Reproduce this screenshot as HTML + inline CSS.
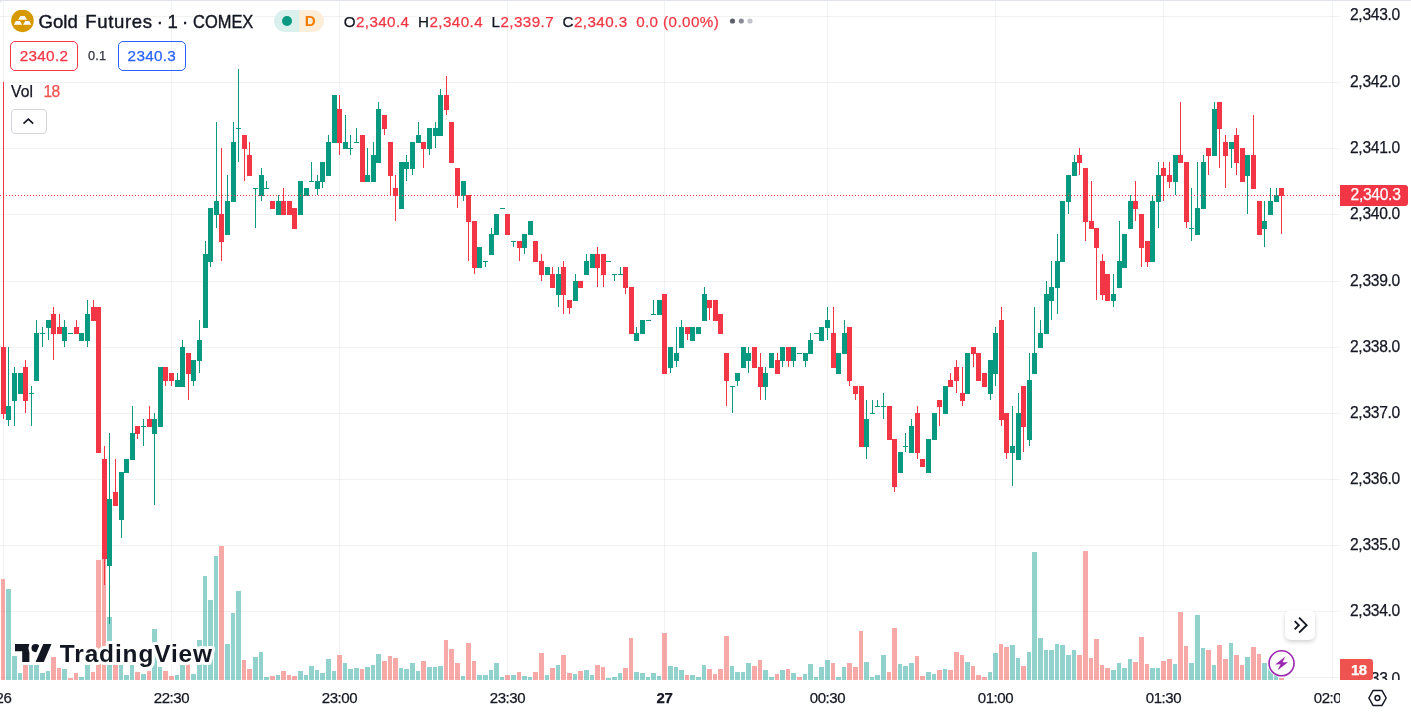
<!DOCTYPE html>
<html><head><meta charset="utf-8"><title>Gold Futures</title>
<style>
html,body{margin:0;padding:0;background:#fff;}
body{width:1411px;height:714px;position:relative;overflow:hidden;font-family:"Liberation Sans",sans-serif;color:#131722;-webkit-text-stroke:0.25px;}
#chart{position:absolute;left:0;top:0;width:1411px;height:714px;overflow:hidden;will-change:transform;}
svg{position:absolute;left:0;top:0;}
.abs{position:absolute;white-space:nowrap;}
.pl{position:absolute;left:1350px;font-size:15.6px;line-height:20px;height:20px;white-space:nowrap;letter-spacing:-0.3px;}
#pane{position:absolute;left:0;top:0;width:1411px;height:680px;overflow:hidden;}
#taxis{position:absolute;left:0;top:680px;width:1340px;height:34px;overflow:hidden;}
.tl{position:absolute;top:7.8px;width:80px;text-align:center;font-size:15px;line-height:20px;white-space:nowrap;letter-spacing:-0.4px;}
.tl.b{font-weight:bold;}
.red{color:#f23645;}
</style></head><body>
<div id="chart">
<svg width="1411" height="714" viewBox="0 0 1411 714" shape-rendering="crispEdges">
<rect x="1333" y="677" width="7" height="1" fill="rgba(50,62,62,0.066)"/><rect x="1333" y="611" width="7" height="1" fill="rgba(50,62,62,0.066)"/><rect x="1333" y="545" width="7" height="1" fill="rgba(50,62,62,0.066)"/><rect x="1333" y="479" width="7" height="1" fill="rgba(50,62,62,0.066)"/><rect x="1333" y="413" width="7" height="1" fill="rgba(50,62,62,0.066)"/><rect x="1333" y="347" width="7" height="1" fill="rgba(50,62,62,0.066)"/><rect x="1333" y="281" width="7" height="1" fill="rgba(50,62,62,0.066)"/><rect x="1333" y="214" width="7" height="1" fill="rgba(50,62,62,0.066)"/><rect x="1333" y="148" width="7" height="1" fill="rgba(50,62,62,0.066)"/><rect x="1333" y="82" width="7" height="1" fill="rgba(50,62,62,0.066)"/><rect x="1333" y="16" width="7" height="1" fill="rgba(50,62,62,0.066)"/>
<rect x="0" y="677" width="1333" height="1" fill="rgba(50,62,62,0.066)"/>
<rect x="0" y="611" width="1333" height="1" fill="rgba(50,62,62,0.066)"/>
<rect x="0" y="545" width="1333" height="1" fill="rgba(50,62,62,0.066)"/>
<rect x="0" y="479" width="1333" height="1" fill="rgba(50,62,62,0.066)"/>
<rect x="0" y="413" width="1333" height="1" fill="rgba(50,62,62,0.066)"/>
<rect x="0" y="347" width="1333" height="1" fill="rgba(50,62,62,0.066)"/>
<rect x="0" y="281" width="1333" height="1" fill="rgba(50,62,62,0.066)"/>
<rect x="0" y="214" width="1333" height="1" fill="rgba(50,62,62,0.066)"/>
<rect x="0" y="148" width="1333" height="1" fill="rgba(50,62,62,0.066)"/>
<rect x="0" y="82" width="1333" height="1" fill="rgba(50,62,62,0.066)"/>
<rect x="0" y="16" width="1333" height="1" fill="rgba(50,62,62,0.066)"/>
<rect x="3" y="0" width="1" height="680" fill="rgba(50,62,62,0.066)"/>
<rect x="171" y="0" width="1" height="680" fill="rgba(50,62,62,0.066)"/>
<rect x="339" y="0" width="1" height="680" fill="rgba(50,62,62,0.066)"/>
<rect x="507" y="0" width="1" height="680" fill="rgba(50,62,62,0.066)"/>
<rect x="664" y="0" width="1" height="680" fill="rgba(50,62,62,0.066)"/>
<rect x="827" y="0" width="1" height="680" fill="rgba(50,62,62,0.066)"/>
<rect x="995" y="0" width="1" height="680" fill="rgba(50,62,62,0.066)"/>
<rect x="1163" y="0" width="1" height="680" fill="rgba(50,62,62,0.066)"/>
<rect x="1332" y="0" width="1" height="680" fill="rgba(50,62,62,0.066)"/>
<rect x="1" y="579" width="4" height="101" fill="rgba(239,83,80,0.5)"/>
<rect x="6" y="589" width="5" height="91" fill="rgba(38,166,154,0.5)"/>
<rect x="12" y="656" width="5" height="24" fill="rgba(38,166,154,0.5)"/>
<rect x="18" y="673" width="4" height="7" fill="rgba(38,166,154,0.5)"/>
<rect x="23" y="665" width="5" height="15" fill="rgba(239,83,80,0.5)"/>
<rect x="29" y="665" width="4" height="15" fill="rgba(38,166,154,0.5)"/>
<rect x="34" y="665" width="5" height="15" fill="rgba(38,166,154,0.5)"/>
<rect x="40" y="673" width="5" height="7" fill="rgba(38,166,154,0.5)"/>
<rect x="46" y="671" width="4" height="9" fill="rgba(38,166,154,0.5)"/>
<rect x="51" y="657" width="5" height="23" fill="rgba(239,83,80,0.5)"/>
<rect x="57" y="668" width="4" height="12" fill="rgba(239,83,80,0.5)"/>
<rect x="62" y="669" width="5" height="11" fill="rgba(38,166,154,0.5)"/>
<rect x="68" y="678" width="5" height="2" fill="rgba(239,83,80,0.5)"/>
<rect x="74" y="673" width="4" height="7" fill="rgba(239,83,80,0.5)"/>
<rect x="79" y="677" width="5" height="3" fill="rgba(38,166,154,0.5)"/>
<rect x="85" y="665" width="5" height="15" fill="rgba(38,166,154,0.5)"/>
<rect x="91" y="672" width="4" height="8" fill="rgba(239,83,80,0.5)"/>
<rect x="96" y="560" width="5" height="120" fill="rgba(239,83,80,0.5)"/>
<rect x="102" y="558" width="4" height="122" fill="rgba(239,83,80,0.5)"/>
<rect x="107" y="617" width="5" height="63" fill="rgba(38,166,154,0.5)"/>
<rect x="113" y="665" width="5" height="15" fill="rgba(239,83,80,0.5)"/>
<rect x="119" y="665" width="4" height="15" fill="rgba(38,166,154,0.5)"/>
<rect x="124" y="675" width="5" height="5" fill="rgba(38,166,154,0.5)"/>
<rect x="130" y="665" width="4" height="15" fill="rgba(38,166,154,0.5)"/>
<rect x="135" y="672" width="5" height="8" fill="rgba(239,83,80,0.5)"/>
<rect x="141" y="674" width="5" height="6" fill="rgba(38,166,154,0.5)"/>
<rect x="147" y="671" width="4" height="9" fill="rgba(239,83,80,0.5)"/>
<rect x="152" y="629" width="5" height="51" fill="rgba(38,166,154,0.5)"/>
<rect x="158" y="667" width="4" height="13" fill="rgba(38,166,154,0.5)"/>
<rect x="163" y="671" width="5" height="9" fill="rgba(239,83,80,0.5)"/>
<rect x="169" y="676" width="5" height="4" fill="rgba(239,83,80,0.5)"/>
<rect x="175" y="675" width="4" height="5" fill="rgba(38,166,154,0.5)"/>
<rect x="180" y="665" width="5" height="15" fill="rgba(38,166,154,0.5)"/>
<rect x="186" y="664" width="4" height="16" fill="rgba(239,83,80,0.5)"/>
<rect x="191" y="674" width="5" height="6" fill="rgba(38,166,154,0.5)"/>
<rect x="197" y="640" width="5" height="40" fill="rgba(38,166,154,0.5)"/>
<rect x="203" y="576" width="4" height="104" fill="rgba(38,166,154,0.5)"/>
<rect x="208" y="600" width="5" height="80" fill="rgba(38,166,154,0.5)"/>
<rect x="214" y="556" width="4" height="124" fill="rgba(38,166,154,0.5)"/>
<rect x="219" y="546" width="5" height="134" fill="rgba(239,83,80,0.5)"/>
<rect x="225" y="644" width="5" height="36" fill="rgba(38,166,154,0.5)"/>
<rect x="231" y="613" width="4" height="67" fill="rgba(38,166,154,0.5)"/>
<rect x="236" y="591" width="5" height="89" fill="rgba(38,166,154,0.5)"/>
<rect x="242" y="660" width="4" height="20" fill="rgba(239,83,80,0.5)"/>
<rect x="247" y="669" width="5" height="11" fill="rgba(239,83,80,0.5)"/>
<rect x="253" y="657" width="5" height="23" fill="rgba(38,166,154,0.5)"/>
<rect x="259" y="652" width="4" height="28" fill="rgba(38,166,154,0.5)"/>
<rect x="264" y="677" width="5" height="3" fill="rgba(38,166,154,0.5)"/>
<rect x="270" y="676" width="5" height="4" fill="rgba(239,83,80,0.5)"/>
<rect x="276" y="675" width="4" height="5" fill="rgba(38,166,154,0.5)"/>
<rect x="281" y="671" width="5" height="9" fill="rgba(239,83,80,0.5)"/>
<rect x="287" y="675" width="4" height="5" fill="rgba(239,83,80,0.5)"/>
<rect x="292" y="676" width="5" height="4" fill="rgba(239,83,80,0.5)"/>
<rect x="298" y="671" width="5" height="9" fill="rgba(38,166,154,0.5)"/>
<rect x="304" y="675" width="4" height="5" fill="rgba(38,166,154,0.5)"/>
<rect x="309" y="666" width="5" height="14" fill="rgba(38,166,154,0.5)"/>
<rect x="315" y="670" width="4" height="10" fill="rgba(38,166,154,0.5)"/>
<rect x="320" y="673" width="5" height="7" fill="rgba(38,166,154,0.5)"/>
<rect x="326" y="659" width="5" height="21" fill="rgba(38,166,154,0.5)"/>
<rect x="332" y="671" width="4" height="9" fill="rgba(38,166,154,0.5)"/>
<rect x="337" y="655" width="5" height="25" fill="rgba(239,83,80,0.5)"/>
<rect x="343" y="663" width="4" height="17" fill="rgba(38,166,154,0.5)"/>
<rect x="348" y="669" width="5" height="11" fill="rgba(38,166,154,0.5)"/>
<rect x="354" y="668" width="5" height="12" fill="rgba(38,166,154,0.5)"/>
<rect x="360" y="669" width="4" height="11" fill="rgba(239,83,80,0.5)"/>
<rect x="365" y="667" width="5" height="13" fill="rgba(38,166,154,0.5)"/>
<rect x="371" y="665" width="4" height="15" fill="rgba(38,166,154,0.5)"/>
<rect x="376" y="654" width="5" height="26" fill="rgba(38,166,154,0.5)"/>
<rect x="382" y="661" width="5" height="19" fill="rgba(239,83,80,0.5)"/>
<rect x="388" y="656" width="4" height="24" fill="rgba(239,83,80,0.5)"/>
<rect x="393" y="658" width="5" height="22" fill="rgba(239,83,80,0.5)"/>
<rect x="399" y="668" width="4" height="12" fill="rgba(38,166,154,0.5)"/>
<rect x="404" y="669" width="5" height="11" fill="rgba(38,166,154,0.5)"/>
<rect x="410" y="663" width="5" height="17" fill="rgba(38,166,154,0.5)"/>
<rect x="416" y="671" width="4" height="9" fill="rgba(38,166,154,0.5)"/>
<rect x="421" y="661" width="5" height="19" fill="rgba(239,83,80,0.5)"/>
<rect x="427" y="667" width="5" height="13" fill="rgba(38,166,154,0.5)"/>
<rect x="433" y="667" width="4" height="13" fill="rgba(38,166,154,0.5)"/>
<rect x="438" y="666" width="5" height="14" fill="rgba(38,166,154,0.5)"/>
<rect x="444" y="640" width="4" height="40" fill="rgba(239,83,80,0.5)"/>
<rect x="449" y="649" width="5" height="31" fill="rgba(239,83,80,0.5)"/>
<rect x="455" y="663" width="5" height="17" fill="rgba(239,83,80,0.5)"/>
<rect x="461" y="676" width="4" height="4" fill="rgba(38,166,154,0.5)"/>
<rect x="466" y="643" width="5" height="37" fill="rgba(239,83,80,0.5)"/>
<rect x="472" y="661" width="4" height="19" fill="rgba(239,83,80,0.5)"/>
<rect x="477" y="675" width="5" height="5" fill="rgba(38,166,154,0.5)"/>
<rect x="483" y="675" width="5" height="5" fill="rgba(38,166,154,0.5)"/>
<rect x="489" y="670" width="4" height="10" fill="rgba(38,166,154,0.5)"/>
<rect x="494" y="663" width="5" height="17" fill="rgba(38,166,154,0.5)"/>
<rect x="500" y="677" width="4" height="3" fill="rgba(38,166,154,0.5)"/>
<rect x="505" y="675" width="5" height="5" fill="rgba(239,83,80,0.5)"/>
<rect x="511" y="675" width="5" height="5" fill="rgba(38,166,154,0.5)"/>
<rect x="517" y="672" width="4" height="8" fill="rgba(239,83,80,0.5)"/>
<rect x="522" y="676" width="5" height="4" fill="rgba(38,166,154,0.5)"/>
<rect x="528" y="677" width="4" height="3" fill="rgba(38,166,154,0.5)"/>
<rect x="533" y="672" width="5" height="8" fill="rgba(239,83,80,0.5)"/>
<rect x="539" y="653" width="5" height="27" fill="rgba(239,83,80,0.5)"/>
<rect x="545" y="675" width="4" height="5" fill="rgba(38,166,154,0.5)"/>
<rect x="550" y="668" width="5" height="12" fill="rgba(239,83,80,0.5)"/>
<rect x="556" y="665" width="4" height="15" fill="rgba(38,166,154,0.5)"/>
<rect x="561" y="655" width="5" height="25" fill="rgba(239,83,80,0.5)"/>
<rect x="567" y="673" width="5" height="7" fill="rgba(239,83,80,0.5)"/>
<rect x="573" y="674" width="4" height="6" fill="rgba(38,166,154,0.5)"/>
<rect x="578" y="671" width="5" height="9" fill="rgba(239,83,80,0.5)"/>
<rect x="584" y="670" width="5" height="10" fill="rgba(38,166,154,0.5)"/>
<rect x="590" y="675" width="4" height="5" fill="rgba(38,166,154,0.5)"/>
<rect x="595" y="665" width="5" height="15" fill="rgba(239,83,80,0.5)"/>
<rect x="601" y="667" width="4" height="13" fill="rgba(239,83,80,0.5)"/>
<rect x="606" y="678" width="5" height="2" fill="rgba(38,166,154,0.5)"/>
<rect x="612" y="677" width="5" height="3" fill="rgba(38,166,154,0.5)"/>
<rect x="618" y="673" width="4" height="7" fill="rgba(38,166,154,0.5)"/>
<rect x="623" y="668" width="5" height="12" fill="rgba(239,83,80,0.5)"/>
<rect x="629" y="638" width="4" height="42" fill="rgba(239,83,80,0.5)"/>
<rect x="634" y="672" width="5" height="8" fill="rgba(38,166,154,0.5)"/>
<rect x="640" y="673" width="5" height="7" fill="rgba(38,166,154,0.5)"/>
<rect x="646" y="677" width="4" height="3" fill="rgba(38,166,154,0.5)"/>
<rect x="651" y="673" width="5" height="7" fill="rgba(38,166,154,0.5)"/>
<rect x="657" y="676" width="4" height="4" fill="rgba(38,166,154,0.5)"/>
<rect x="662" y="633" width="5" height="47" fill="rgba(239,83,80,0.5)"/>
<rect x="668" y="666" width="5" height="14" fill="rgba(38,166,154,0.5)"/>
<rect x="674" y="667" width="4" height="13" fill="rgba(38,166,154,0.5)"/>
<rect x="679" y="670" width="5" height="10" fill="rgba(38,166,154,0.5)"/>
<rect x="685" y="675" width="4" height="5" fill="rgba(239,83,80,0.5)"/>
<rect x="690" y="675" width="5" height="5" fill="rgba(38,166,154,0.5)"/>
<rect x="696" y="677" width="5" height="3" fill="rgba(38,166,154,0.5)"/>
<rect x="702" y="665" width="4" height="15" fill="rgba(38,166,154,0.5)"/>
<rect x="707" y="669" width="5" height="11" fill="rgba(239,83,80,0.5)"/>
<rect x="713" y="674" width="4" height="6" fill="rgba(239,83,80,0.5)"/>
<rect x="718" y="669" width="5" height="11" fill="rgba(239,83,80,0.5)"/>
<rect x="724" y="636" width="5" height="44" fill="rgba(239,83,80,0.5)"/>
<rect x="730" y="666" width="4" height="14" fill="rgba(38,166,154,0.5)"/>
<rect x="735" y="672" width="5" height="8" fill="rgba(38,166,154,0.5)"/>
<rect x="741" y="672" width="4" height="8" fill="rgba(38,166,154,0.5)"/>
<rect x="746" y="663" width="5" height="17" fill="rgba(38,166,154,0.5)"/>
<rect x="752" y="666" width="5" height="14" fill="rgba(239,83,80,0.5)"/>
<rect x="758" y="660" width="4" height="20" fill="rgba(239,83,80,0.5)"/>
<rect x="763" y="670" width="5" height="10" fill="rgba(38,166,154,0.5)"/>
<rect x="769" y="677" width="5" height="3" fill="rgba(38,166,154,0.5)"/>
<rect x="775" y="674" width="4" height="6" fill="rgba(239,83,80,0.5)"/>
<rect x="780" y="670" width="5" height="10" fill="rgba(38,166,154,0.5)"/>
<rect x="786" y="669" width="4" height="11" fill="rgba(239,83,80,0.5)"/>
<rect x="791" y="673" width="5" height="7" fill="rgba(38,166,154,0.5)"/>
<rect x="797" y="677" width="5" height="3" fill="rgba(239,83,80,0.5)"/>
<rect x="803" y="674" width="4" height="6" fill="rgba(38,166,154,0.5)"/>
<rect x="808" y="664" width="5" height="16" fill="rgba(38,166,154,0.5)"/>
<rect x="814" y="677" width="4" height="3" fill="rgba(38,166,154,0.5)"/>
<rect x="819" y="667" width="5" height="13" fill="rgba(38,166,154,0.5)"/>
<rect x="825" y="660" width="5" height="20" fill="rgba(38,166,154,0.5)"/>
<rect x="831" y="663" width="4" height="17" fill="rgba(239,83,80,0.5)"/>
<rect x="836" y="677" width="5" height="3" fill="rgba(38,166,154,0.5)"/>
<rect x="842" y="667" width="4" height="13" fill="rgba(38,166,154,0.5)"/>
<rect x="847" y="663" width="5" height="17" fill="rgba(239,83,80,0.5)"/>
<rect x="853" y="667" width="5" height="13" fill="rgba(239,83,80,0.5)"/>
<rect x="859" y="631" width="4" height="49" fill="rgba(239,83,80,0.5)"/>
<rect x="864" y="662" width="5" height="18" fill="rgba(38,166,154,0.5)"/>
<rect x="870" y="677" width="4" height="3" fill="rgba(38,166,154,0.5)"/>
<rect x="875" y="675" width="5" height="5" fill="rgba(38,166,154,0.5)"/>
<rect x="881" y="655" width="5" height="25" fill="rgba(38,166,154,0.5)"/>
<rect x="887" y="672" width="4" height="8" fill="rgba(239,83,80,0.5)"/>
<rect x="892" y="628" width="5" height="52" fill="rgba(239,83,80,0.5)"/>
<rect x="898" y="664" width="4" height="16" fill="rgba(38,166,154,0.5)"/>
<rect x="903" y="666" width="5" height="14" fill="rgba(38,166,154,0.5)"/>
<rect x="909" y="663" width="5" height="17" fill="rgba(38,166,154,0.5)"/>
<rect x="915" y="656" width="4" height="24" fill="rgba(239,83,80,0.5)"/>
<rect x="920" y="676" width="5" height="4" fill="rgba(239,83,80,0.5)"/>
<rect x="926" y="672" width="5" height="8" fill="rgba(38,166,154,0.5)"/>
<rect x="932" y="674" width="4" height="6" fill="rgba(38,166,154,0.5)"/>
<rect x="937" y="670" width="5" height="10" fill="rgba(239,83,80,0.5)"/>
<rect x="943" y="669" width="4" height="11" fill="rgba(38,166,154,0.5)"/>
<rect x="948" y="670" width="5" height="10" fill="rgba(239,83,80,0.5)"/>
<rect x="954" y="652" width="5" height="28" fill="rgba(239,83,80,0.5)"/>
<rect x="960" y="655" width="4" height="25" fill="rgba(239,83,80,0.5)"/>
<rect x="965" y="662" width="5" height="18" fill="rgba(38,166,154,0.5)"/>
<rect x="971" y="666" width="4" height="14" fill="rgba(239,83,80,0.5)"/>
<rect x="976" y="675" width="5" height="5" fill="rgba(239,83,80,0.5)"/>
<rect x="982" y="677" width="5" height="3" fill="rgba(239,83,80,0.5)"/>
<rect x="988" y="672" width="4" height="8" fill="rgba(38,166,154,0.5)"/>
<rect x="993" y="653" width="5" height="27" fill="rgba(38,166,154,0.5)"/>
<rect x="999" y="644" width="4" height="36" fill="rgba(239,83,80,0.5)"/>
<rect x="1004" y="647" width="5" height="33" fill="rgba(239,83,80,0.5)"/>
<rect x="1010" y="645" width="5" height="35" fill="rgba(38,166,154,0.5)"/>
<rect x="1016" y="658" width="4" height="22" fill="rgba(38,166,154,0.5)"/>
<rect x="1021" y="666" width="5" height="14" fill="rgba(239,83,80,0.5)"/>
<rect x="1027" y="652" width="4" height="28" fill="rgba(38,166,154,0.5)"/>
<rect x="1032" y="552" width="5" height="128" fill="rgba(38,166,154,0.5)"/>
<rect x="1038" y="638" width="5" height="42" fill="rgba(38,166,154,0.5)"/>
<rect x="1044" y="650" width="4" height="30" fill="rgba(38,166,154,0.5)"/>
<rect x="1049" y="650" width="5" height="30" fill="rgba(38,166,154,0.5)"/>
<rect x="1055" y="644" width="4" height="36" fill="rgba(38,166,154,0.5)"/>
<rect x="1060" y="645" width="5" height="35" fill="rgba(38,166,154,0.5)"/>
<rect x="1066" y="655" width="5" height="25" fill="rgba(38,166,154,0.5)"/>
<rect x="1072" y="650" width="4" height="30" fill="rgba(38,166,154,0.5)"/>
<rect x="1077" y="655" width="5" height="25" fill="rgba(239,83,80,0.5)"/>
<rect x="1083" y="551" width="5" height="129" fill="rgba(239,83,80,0.5)"/>
<rect x="1089" y="658" width="4" height="22" fill="rgba(239,83,80,0.5)"/>
<rect x="1094" y="639" width="5" height="41" fill="rgba(239,83,80,0.5)"/>
<rect x="1100" y="665" width="4" height="15" fill="rgba(239,83,80,0.5)"/>
<rect x="1105" y="668" width="5" height="12" fill="rgba(239,83,80,0.5)"/>
<rect x="1111" y="670" width="5" height="10" fill="rgba(38,166,154,0.5)"/>
<rect x="1117" y="663" width="4" height="17" fill="rgba(38,166,154,0.5)"/>
<rect x="1122" y="668" width="5" height="12" fill="rgba(38,166,154,0.5)"/>
<rect x="1128" y="659" width="4" height="21" fill="rgba(38,166,154,0.5)"/>
<rect x="1133" y="662" width="5" height="18" fill="rgba(239,83,80,0.5)"/>
<rect x="1139" y="637" width="5" height="43" fill="rgba(239,83,80,0.5)"/>
<rect x="1145" y="664" width="4" height="16" fill="rgba(239,83,80,0.5)"/>
<rect x="1150" y="668" width="5" height="12" fill="rgba(38,166,154,0.5)"/>
<rect x="1156" y="668" width="4" height="12" fill="rgba(38,166,154,0.5)"/>
<rect x="1161" y="661" width="5" height="19" fill="rgba(239,83,80,0.5)"/>
<rect x="1167" y="659" width="5" height="21" fill="rgba(239,83,80,0.5)"/>
<rect x="1173" y="664" width="4" height="16" fill="rgba(38,166,154,0.5)"/>
<rect x="1178" y="612" width="5" height="68" fill="rgba(239,83,80,0.5)"/>
<rect x="1184" y="646" width="4" height="34" fill="rgba(239,83,80,0.5)"/>
<rect x="1189" y="663" width="5" height="17" fill="rgba(38,166,154,0.5)"/>
<rect x="1195" y="615" width="5" height="65" fill="rgba(38,166,154,0.5)"/>
<rect x="1201" y="648" width="4" height="32" fill="rgba(38,166,154,0.5)"/>
<rect x="1206" y="650" width="5" height="30" fill="rgba(239,83,80,0.5)"/>
<rect x="1212" y="665" width="4" height="15" fill="rgba(38,166,154,0.5)"/>
<rect x="1217" y="645" width="5" height="35" fill="rgba(239,83,80,0.5)"/>
<rect x="1223" y="659" width="5" height="21" fill="rgba(239,83,80,0.5)"/>
<rect x="1229" y="643" width="4" height="37" fill="rgba(38,166,154,0.5)"/>
<rect x="1234" y="655" width="5" height="25" fill="rgba(239,83,80,0.5)"/>
<rect x="1240" y="665" width="4" height="15" fill="rgba(239,83,80,0.5)"/>
<rect x="1245" y="657" width="5" height="23" fill="rgba(38,166,154,0.5)"/>
<rect x="1251" y="647" width="5" height="33" fill="rgba(239,83,80,0.5)"/>
<rect x="1257" y="654" width="4" height="26" fill="rgba(239,83,80,0.5)"/>
<rect x="1262" y="663" width="5" height="17" fill="rgba(38,166,154,0.5)"/>
<rect x="1268" y="668" width="5" height="12" fill="rgba(38,166,154,0.5)"/>
<rect x="1274" y="675" width="4" height="5" fill="rgba(38,166,154,0.5)"/>
<rect x="1279" y="678" width="5" height="2" fill="rgba(239,83,80,0.5)"/>
<path fill="#089981" d="M8 347h1v79h-1zM6 406h5v14h-5zM14 367h1v59h-1zM12 373h5v28h-5zM20 373h1v20h-1zM18 373h5v21h-5zM31 386h1v40h-1zM29 393h5v1h-5zM36 320h1v60h-1zM34 333h5v48h-5zM42 327h1v20h-1zM40 333h5v1h-5zM48 320h1v20h-1zM46 320h5v8h-5zM64 320h1v27h-1zM62 327h5v14h-5zM68 333h5v1h-5zM81 333h1v7h-1zM79 333h5v8h-5zM87 300h1v47h-1zM85 314h5v27h-5zM109 433h1v191h-1zM107 499h5v67h-5zM121 472h1v66h-1zM119 472h5v48h-5zM126 459h1v13h-1zM124 459h5v14h-5zM132 406h1v53h-1zM130 433h5v27h-5zM143 419h1v27h-1zM141 426h5v1h-5zM154 413h1v92h-1zM152 419h5v15h-5zM160 367h1v59h-1zM158 367h5v60h-5zM177 373h1v13h-1zM175 380h5v7h-5zM182 340h1v46h-1zM180 347h5v40h-5zM193 360h1v26h-1zM191 360h5v21h-5zM199 320h1v53h-1zM197 340h5v21h-5zM205 241h1v86h-1zM203 254h5v74h-5zM210 208h1v59h-1zM208 208h5v54h-5zM216 122h1v106h-1zM214 201h5v14h-5zM227 175h1v59h-1zM225 201h5v34h-5zM233 122h1v79h-1zM231 142h5v60h-5zM238 69h1v93h-1zM236 128h5v1h-5zM255 188h1v40h-1zM253 188h5v1h-5zM261 168h1v33h-1zM259 175h5v21h-5zM266 181h1v7h-1zM264 188h5v1h-5zM278 195h1v19h-1zM276 201h5v14h-5zM300 181h1v33h-1zM298 181h5v34h-5zM306 188h1v7h-1zM304 188h5v8h-5zM311 162h1v19h-1zM309 181h5v1h-5zM317 175h1v20h-1zM315 181h5v8h-5zM322 162h1v26h-1zM320 162h5v20h-5zM328 135h1v40h-1zM326 142h5v34h-5zM334 95h1v47h-1zM332 95h5v48h-5zM345 115h1v33h-1zM343 142h5v7h-5zM350 135h1v20h-1zM348 148h5v1h-5zM356 128h1v14h-1zM354 142h5v1h-5zM367 148h1v33h-1zM365 175h5v7h-5zM373 142h1v39h-1zM371 155h5v27h-5zM378 102h1v60h-1zM376 109h5v54h-5zM401 162h1v46h-1zM399 162h5v47h-5zM406 155h1v26h-1zM404 162h5v7h-5zM412 142h1v33h-1zM410 142h5v27h-5zM418 122h1v20h-1zM416 135h5v8h-5zM429 128h1v27h-1zM427 128h5v21h-5zM435 122h1v26h-1zM433 128h5v8h-5zM440 89h1v46h-1zM438 95h5v41h-5zM463 181h1v20h-1zM461 181h5v15h-5zM479 247h1v20h-1zM477 247h5v21h-5zM485 261h1v6h-1zM483 261h5v1h-5zM491 228h1v26h-1zM489 234h5v21h-5zM496 214h1v20h-1zM494 214h5v21h-5zM500 208h5v1h-5zM513 241h1v6h-1zM511 241h5v1h-5zM524 234h1v20h-1zM522 234h5v14h-5zM530 221h1v13h-1zM528 221h5v14h-5zM547 267h1v7h-1zM545 267h5v8h-5zM558 267h1v40h-1zM556 274h5v21h-5zM575 274h1v26h-1zM573 281h5v20h-5zM586 254h1v20h-1zM584 261h5v14h-5zM592 254h1v13h-1zM590 254h5v14h-5zM606 261h5v1h-5zM614 274h1v7h-1zM612 274h5v1h-5zM620 267h1v7h-1zM618 274h5v1h-5zM636 327h1v13h-1zM634 333h5v8h-5zM642 320h1v13h-1zM640 320h5v14h-5zM646 320h5v1h-5zM653 300h1v14h-1zM651 314h5v1h-5zM659 300h1v14h-1zM657 300h5v15h-5zM670 347h1v26h-1zM668 347h5v21h-5zM676 327h1v40h-1zM674 353h5v8h-5zM681 320h1v27h-1zM679 327h5v21h-5zM692 327h1v13h-1zM690 327h5v14h-5zM698 327h1v6h-1zM696 327h5v7h-5zM704 287h1v33h-1zM702 294h5v27h-5zM732 386h1v27h-1zM730 386h5v1h-5zM737 373h1v13h-1zM735 373h5v8h-5zM743 347h1v20h-1zM741 347h5v21h-5zM748 347h1v26h-1zM746 353h5v8h-5zM765 367h1v33h-1zM763 373h5v14h-5zM771 353h1v14h-1zM769 353h5v15h-5zM782 347h1v20h-1zM780 347h5v14h-5zM793 347h1v20h-1zM791 347h5v14h-5zM797 353h5v1h-5zM805 353h1v14h-1zM803 353h5v8h-5zM810 333h1v20h-1zM808 340h5v14h-5zM814 333h5v1h-5zM821 327h1v13h-1zM819 327h5v14h-5zM827 307h1v33h-1zM825 320h5v8h-5zM838 353h1v20h-1zM836 353h5v21h-5zM844 320h1v33h-1zM842 333h5v21h-5zM866 400h1v59h-1zM864 419h5v28h-5zM872 400h1v13h-1zM870 413h5v1h-5zM877 400h1v6h-1zM875 406h5v1h-5zM883 393h1v26h-1zM881 406h5v1h-5zM900 452h1v20h-1zM898 452h5v21h-5zM905 433h1v19h-1zM903 446h5v1h-5zM911 419h1v33h-1zM909 426h5v27h-5zM928 439h1v33h-1zM926 439h5v34h-5zM934 413h1v26h-1zM932 413h5v27h-5zM945 386h1v27h-1zM943 386h5v28h-5zM967 353h1v40h-1zM965 353h5v41h-5zM990 360h1v40h-1zM988 360h5v34h-5zM995 327h1v59h-1zM993 333h5v41h-5zM1012 406h1v80h-1zM1010 446h5v7h-5zM1018 393h1v66h-1zM1016 413h5v47h-5zM1029 353h1v93h-1zM1027 380h5v60h-5zM1034 307h1v66h-1zM1032 353h5v21h-5zM1040 320h1v27h-1zM1038 333h5v15h-5zM1046 281h1v52h-1zM1044 294h5v40h-5zM1051 261h1v59h-1zM1049 287h5v14h-5zM1057 234h1v80h-1zM1055 261h5v27h-5zM1062 201h1v60h-1zM1060 201h5v61h-5zM1068 175h1v39h-1zM1066 175h5v27h-5zM1074 155h1v20h-1zM1072 162h5v14h-5zM1113 274h1v33h-1zM1111 294h5v7h-5zM1119 221h1v66h-1zM1117 261h5v27h-5zM1124 234h1v33h-1zM1122 234h5v34h-5zM1130 195h1v33h-1zM1128 201h5v28h-5zM1152 195h1v66h-1zM1150 201h5v61h-5zM1158 162h1v66h-1zM1156 175h5v27h-5zM1175 155h1v40h-1zM1173 155h5v27h-5zM1191 188h1v53h-1zM1189 228h5v1h-5zM1197 162h1v72h-1zM1195 208h5v27h-5zM1203 155h1v53h-1zM1201 162h5v47h-5zM1214 102h1v53h-1zM1212 109h5v47h-5zM1231 142h1v26h-1zM1229 142h5v7h-5zM1247 155h1v59h-1zM1245 155h5v21h-5zM1264 201h1v46h-1zM1262 221h5v8h-5zM1270 188h1v26h-1zM1268 201h5v14h-5zM1276 188h1v13h-1zM1274 195h5v7h-5z"/>
<path fill="#f23645" d="M3 82h1v337h-1zM1 347h5v67h-5zM25 360h1v53h-1zM23 367h5v34h-5zM53 307h1v53h-1zM51 314h5v20h-5zM59 314h1v19h-1zM57 327h5v7h-5zM76 320h1v13h-1zM74 327h5v7h-5zM93 300h1v20h-1zM91 307h5v14h-5zM98 307h1v145h-1zM96 307h5v146h-5zM104 446h1v139h-1zM102 459h5v100h-5zM115 459h1v46h-1zM113 492h5v14h-5zM137 426h1v13h-1zM135 426h5v8h-5zM149 406h1v20h-1zM147 419h5v8h-5zM165 367h1v19h-1zM163 367h5v14h-5zM171 373h1v13h-1zM169 373h5v8h-5zM188 353h1v47h-1zM186 353h5v21h-5zM221 148h1v113h-1zM219 214h5v28h-5zM244 135h1v46h-1zM242 135h5v14h-5zM249 142h1v33h-1zM247 155h5v21h-5zM272 201h1v7h-1zM270 201h5v8h-5zM283 188h1v26h-1zM281 201h5v14h-5zM289 201h1v13h-1zM287 201h5v14h-5zM294 208h1v20h-1zM292 208h5v21h-5zM339 95h1v60h-1zM337 109h5v34h-5zM362 135h1v46h-1zM360 135h5v47h-5zM384 115h1v20h-1zM382 115h5v14h-5zM390 142h1v53h-1zM388 142h5v34h-5zM395 175h1v46h-1zM393 188h5v8h-5zM423 142h1v26h-1zM421 142h5v7h-5zM446 76h1v39h-1zM444 95h5v15h-5zM451 122h1v40h-1zM449 122h5v41h-5zM457 168h1v40h-1zM455 168h5v28h-5zM468 195h1v66h-1zM466 195h5v27h-5zM474 221h1v53h-1zM472 221h5v47h-5zM507 214h1v20h-1zM505 214h5v21h-5zM519 241h1v20h-1zM517 241h5v7h-5zM535 241h1v20h-1zM533 241h5v21h-5zM541 254h1v27h-1zM539 261h5v14h-5zM552 267h1v20h-1zM550 274h5v14h-5zM563 261h1v53h-1zM561 267h5v28h-5zM569 300h1v14h-1zM567 300h5v8h-5zM580 281h1v6h-1zM578 281h5v7h-5zM597 247h1v40h-1zM595 254h5v14h-5zM603 254h1v33h-1zM601 254h5v21h-5zM625 267h1v27h-1zM623 267h5v21h-5zM631 287h1v46h-1zM629 287h5v47h-5zM664 294h1v79h-1zM662 294h5v80h-5zM687 327h1v13h-1zM685 327h5v7h-5zM709 300h1v20h-1zM707 300h5v8h-5zM715 300h1v20h-1zM713 300h5v21h-5zM720 314h1v19h-1zM718 314h5v20h-5zM726 353h1v53h-1zM724 353h5v28h-5zM754 347h1v20h-1zM752 347h5v21h-5zM760 353h1v47h-1zM758 367h5v20h-5zM777 353h1v20h-1zM775 360h5v14h-5zM788 347h1v20h-1zM786 347h5v14h-5zM833 307h1v60h-1zM831 333h5v35h-5zM849 327h1v59h-1zM847 327h5v54h-5zM855 386h1v14h-1zM853 386h5v8h-5zM861 386h1v60h-1zM859 386h5v61h-5zM889 406h1v33h-1zM887 406h5v34h-5zM894 439h1v53h-1zM892 439h5v48h-5zM917 406h1v53h-1zM915 413h5v40h-5zM922 459h1v7h-1zM920 459h5v8h-5zM939 400h1v26h-1zM937 400h5v7h-5zM950 373h1v13h-1zM948 380h5v7h-5zM956 360h1v33h-1zM954 367h5v14h-5zM962 367h1v39h-1zM960 393h5v8h-5zM973 347h1v20h-1zM971 347h5v7h-5zM978 353h1v27h-1zM976 353h5v28h-5zM984 373h1v13h-1zM982 373h5v14h-5zM1001 307h1v119h-1zM999 320h5v100h-5zM1006 413h1v46h-1zM1004 413h5v40h-5zM1023 386h1v66h-1zM1021 386h5v41h-5zM1079 148h1v27h-1zM1077 155h5v8h-5zM1085 168h1v73h-1zM1083 168h5v54h-5zM1091 181h1v47h-1zM1089 221h5v8h-5zM1096 228h1v72h-1zM1094 228h5v20h-5zM1102 254h1v46h-1zM1100 261h5v34h-5zM1107 274h1v26h-1zM1105 274h5v27h-5zM1135 181h1v40h-1zM1133 201h5v8h-5zM1141 214h1v53h-1zM1139 214h5v34h-5zM1147 241h1v26h-1zM1145 241h5v21h-5zM1163 162h1v39h-1zM1161 168h5v8h-5zM1169 162h1v26h-1zM1167 175h5v7h-5zM1180 102h1v60h-1zM1178 155h5v8h-5zM1186 162h1v66h-1zM1184 162h5v60h-5zM1208 148h1v27h-1zM1206 148h5v8h-5zM1219 102h1v66h-1zM1217 102h5v27h-5zM1225 135h1v53h-1zM1223 142h5v14h-5zM1236 128h1v47h-1zM1234 135h5v28h-5zM1242 148h1v33h-1zM1240 148h5v34h-5zM1253 115h1v73h-1zM1251 155h5v34h-5zM1259 201h1v33h-1zM1257 201h5v34h-5zM1281 188h1v46h-1zM1279 188h5v8h-5z"/>
<path fill="#f23645" d="M0 195h1v1h-1zM3 195h1v1h-1zM6 195h1v1h-1zM9 195h1v1h-1zM12 195h1v1h-1zM15 195h1v1h-1zM18 195h1v1h-1zM21 195h1v1h-1zM24 195h1v1h-1zM27 195h1v1h-1zM30 195h1v1h-1zM33 195h1v1h-1zM36 195h1v1h-1zM39 195h1v1h-1zM42 195h1v1h-1zM45 195h1v1h-1zM48 195h1v1h-1zM51 195h1v1h-1zM54 195h1v1h-1zM57 195h1v1h-1zM60 195h1v1h-1zM63 195h1v1h-1zM66 195h1v1h-1zM69 195h1v1h-1zM72 195h1v1h-1zM75 195h1v1h-1zM78 195h1v1h-1zM81 195h1v1h-1zM84 195h1v1h-1zM87 195h1v1h-1zM90 195h1v1h-1zM93 195h1v1h-1zM96 195h1v1h-1zM99 195h1v1h-1zM102 195h1v1h-1zM105 195h1v1h-1zM108 195h1v1h-1zM111 195h1v1h-1zM114 195h1v1h-1zM117 195h1v1h-1zM120 195h1v1h-1zM123 195h1v1h-1zM126 195h1v1h-1zM129 195h1v1h-1zM132 195h1v1h-1zM135 195h1v1h-1zM138 195h1v1h-1zM141 195h1v1h-1zM144 195h1v1h-1zM147 195h1v1h-1zM150 195h1v1h-1zM153 195h1v1h-1zM156 195h1v1h-1zM159 195h1v1h-1zM162 195h1v1h-1zM165 195h1v1h-1zM168 195h1v1h-1zM171 195h1v1h-1zM174 195h1v1h-1zM177 195h1v1h-1zM180 195h1v1h-1zM183 195h1v1h-1zM186 195h1v1h-1zM189 195h1v1h-1zM192 195h1v1h-1zM195 195h1v1h-1zM198 195h1v1h-1zM201 195h1v1h-1zM204 195h1v1h-1zM207 195h1v1h-1zM210 195h1v1h-1zM213 195h1v1h-1zM216 195h1v1h-1zM219 195h1v1h-1zM222 195h1v1h-1zM225 195h1v1h-1zM228 195h1v1h-1zM231 195h1v1h-1zM234 195h1v1h-1zM237 195h1v1h-1zM240 195h1v1h-1zM243 195h1v1h-1zM246 195h1v1h-1zM249 195h1v1h-1zM252 195h1v1h-1zM255 195h1v1h-1zM258 195h1v1h-1zM261 195h1v1h-1zM264 195h1v1h-1zM267 195h1v1h-1zM270 195h1v1h-1zM273 195h1v1h-1zM276 195h1v1h-1zM279 195h1v1h-1zM282 195h1v1h-1zM285 195h1v1h-1zM288 195h1v1h-1zM291 195h1v1h-1zM294 195h1v1h-1zM297 195h1v1h-1zM300 195h1v1h-1zM303 195h1v1h-1zM306 195h1v1h-1zM309 195h1v1h-1zM312 195h1v1h-1zM315 195h1v1h-1zM318 195h1v1h-1zM321 195h1v1h-1zM324 195h1v1h-1zM327 195h1v1h-1zM330 195h1v1h-1zM333 195h1v1h-1zM336 195h1v1h-1zM339 195h1v1h-1zM342 195h1v1h-1zM345 195h1v1h-1zM348 195h1v1h-1zM351 195h1v1h-1zM354 195h1v1h-1zM357 195h1v1h-1zM360 195h1v1h-1zM363 195h1v1h-1zM366 195h1v1h-1zM369 195h1v1h-1zM372 195h1v1h-1zM375 195h1v1h-1zM378 195h1v1h-1zM381 195h1v1h-1zM384 195h1v1h-1zM387 195h1v1h-1zM390 195h1v1h-1zM393 195h1v1h-1zM396 195h1v1h-1zM399 195h1v1h-1zM402 195h1v1h-1zM405 195h1v1h-1zM408 195h1v1h-1zM411 195h1v1h-1zM414 195h1v1h-1zM417 195h1v1h-1zM420 195h1v1h-1zM423 195h1v1h-1zM426 195h1v1h-1zM429 195h1v1h-1zM432 195h1v1h-1zM435 195h1v1h-1zM438 195h1v1h-1zM441 195h1v1h-1zM444 195h1v1h-1zM447 195h1v1h-1zM450 195h1v1h-1zM453 195h1v1h-1zM456 195h1v1h-1zM459 195h1v1h-1zM462 195h1v1h-1zM465 195h1v1h-1zM468 195h1v1h-1zM471 195h1v1h-1zM474 195h1v1h-1zM477 195h1v1h-1zM480 195h1v1h-1zM483 195h1v1h-1zM486 195h1v1h-1zM489 195h1v1h-1zM492 195h1v1h-1zM495 195h1v1h-1zM498 195h1v1h-1zM501 195h1v1h-1zM504 195h1v1h-1zM507 195h1v1h-1zM510 195h1v1h-1zM513 195h1v1h-1zM516 195h1v1h-1zM519 195h1v1h-1zM522 195h1v1h-1zM525 195h1v1h-1zM528 195h1v1h-1zM531 195h1v1h-1zM534 195h1v1h-1zM537 195h1v1h-1zM540 195h1v1h-1zM543 195h1v1h-1zM546 195h1v1h-1zM549 195h1v1h-1zM552 195h1v1h-1zM555 195h1v1h-1zM558 195h1v1h-1zM561 195h1v1h-1zM564 195h1v1h-1zM567 195h1v1h-1zM570 195h1v1h-1zM573 195h1v1h-1zM576 195h1v1h-1zM579 195h1v1h-1zM582 195h1v1h-1zM585 195h1v1h-1zM588 195h1v1h-1zM591 195h1v1h-1zM594 195h1v1h-1zM597 195h1v1h-1zM600 195h1v1h-1zM603 195h1v1h-1zM606 195h1v1h-1zM609 195h1v1h-1zM612 195h1v1h-1zM615 195h1v1h-1zM618 195h1v1h-1zM621 195h1v1h-1zM624 195h1v1h-1zM627 195h1v1h-1zM630 195h1v1h-1zM633 195h1v1h-1zM636 195h1v1h-1zM639 195h1v1h-1zM642 195h1v1h-1zM645 195h1v1h-1zM648 195h1v1h-1zM651 195h1v1h-1zM654 195h1v1h-1zM657 195h1v1h-1zM660 195h1v1h-1zM663 195h1v1h-1zM666 195h1v1h-1zM669 195h1v1h-1zM672 195h1v1h-1zM675 195h1v1h-1zM678 195h1v1h-1zM681 195h1v1h-1zM684 195h1v1h-1zM687 195h1v1h-1zM690 195h1v1h-1zM693 195h1v1h-1zM696 195h1v1h-1zM699 195h1v1h-1zM702 195h1v1h-1zM705 195h1v1h-1zM708 195h1v1h-1zM711 195h1v1h-1zM714 195h1v1h-1zM717 195h1v1h-1zM720 195h1v1h-1zM723 195h1v1h-1zM726 195h1v1h-1zM729 195h1v1h-1zM732 195h1v1h-1zM735 195h1v1h-1zM738 195h1v1h-1zM741 195h1v1h-1zM744 195h1v1h-1zM747 195h1v1h-1zM750 195h1v1h-1zM753 195h1v1h-1zM756 195h1v1h-1zM759 195h1v1h-1zM762 195h1v1h-1zM765 195h1v1h-1zM768 195h1v1h-1zM771 195h1v1h-1zM774 195h1v1h-1zM777 195h1v1h-1zM780 195h1v1h-1zM783 195h1v1h-1zM786 195h1v1h-1zM789 195h1v1h-1zM792 195h1v1h-1zM795 195h1v1h-1zM798 195h1v1h-1zM801 195h1v1h-1zM804 195h1v1h-1zM807 195h1v1h-1zM810 195h1v1h-1zM813 195h1v1h-1zM816 195h1v1h-1zM819 195h1v1h-1zM822 195h1v1h-1zM825 195h1v1h-1zM828 195h1v1h-1zM831 195h1v1h-1zM834 195h1v1h-1zM837 195h1v1h-1zM840 195h1v1h-1zM843 195h1v1h-1zM846 195h1v1h-1zM849 195h1v1h-1zM852 195h1v1h-1zM855 195h1v1h-1zM858 195h1v1h-1zM861 195h1v1h-1zM864 195h1v1h-1zM867 195h1v1h-1zM870 195h1v1h-1zM873 195h1v1h-1zM876 195h1v1h-1zM879 195h1v1h-1zM882 195h1v1h-1zM885 195h1v1h-1zM888 195h1v1h-1zM891 195h1v1h-1zM894 195h1v1h-1zM897 195h1v1h-1zM900 195h1v1h-1zM903 195h1v1h-1zM906 195h1v1h-1zM909 195h1v1h-1zM912 195h1v1h-1zM915 195h1v1h-1zM918 195h1v1h-1zM921 195h1v1h-1zM924 195h1v1h-1zM927 195h1v1h-1zM930 195h1v1h-1zM933 195h1v1h-1zM936 195h1v1h-1zM939 195h1v1h-1zM942 195h1v1h-1zM945 195h1v1h-1zM948 195h1v1h-1zM951 195h1v1h-1zM954 195h1v1h-1zM957 195h1v1h-1zM960 195h1v1h-1zM963 195h1v1h-1zM966 195h1v1h-1zM969 195h1v1h-1zM972 195h1v1h-1zM975 195h1v1h-1zM978 195h1v1h-1zM981 195h1v1h-1zM984 195h1v1h-1zM987 195h1v1h-1zM990 195h1v1h-1zM993 195h1v1h-1zM996 195h1v1h-1zM999 195h1v1h-1zM1002 195h1v1h-1zM1005 195h1v1h-1zM1008 195h1v1h-1zM1011 195h1v1h-1zM1014 195h1v1h-1zM1017 195h1v1h-1zM1020 195h1v1h-1zM1023 195h1v1h-1zM1026 195h1v1h-1zM1029 195h1v1h-1zM1032 195h1v1h-1zM1035 195h1v1h-1zM1038 195h1v1h-1zM1041 195h1v1h-1zM1044 195h1v1h-1zM1047 195h1v1h-1zM1050 195h1v1h-1zM1053 195h1v1h-1zM1056 195h1v1h-1zM1059 195h1v1h-1zM1062 195h1v1h-1zM1065 195h1v1h-1zM1068 195h1v1h-1zM1071 195h1v1h-1zM1074 195h1v1h-1zM1077 195h1v1h-1zM1080 195h1v1h-1zM1083 195h1v1h-1zM1086 195h1v1h-1zM1089 195h1v1h-1zM1092 195h1v1h-1zM1095 195h1v1h-1zM1098 195h1v1h-1zM1101 195h1v1h-1zM1104 195h1v1h-1zM1107 195h1v1h-1zM1110 195h1v1h-1zM1113 195h1v1h-1zM1116 195h1v1h-1zM1119 195h1v1h-1zM1122 195h1v1h-1zM1125 195h1v1h-1zM1128 195h1v1h-1zM1131 195h1v1h-1zM1134 195h1v1h-1zM1137 195h1v1h-1zM1140 195h1v1h-1zM1143 195h1v1h-1zM1146 195h1v1h-1zM1149 195h1v1h-1zM1152 195h1v1h-1zM1155 195h1v1h-1zM1158 195h1v1h-1zM1161 195h1v1h-1zM1164 195h1v1h-1zM1167 195h1v1h-1zM1170 195h1v1h-1zM1173 195h1v1h-1zM1176 195h1v1h-1zM1179 195h1v1h-1zM1182 195h1v1h-1zM1185 195h1v1h-1zM1188 195h1v1h-1zM1191 195h1v1h-1zM1194 195h1v1h-1zM1197 195h1v1h-1zM1200 195h1v1h-1zM1203 195h1v1h-1zM1206 195h1v1h-1zM1209 195h1v1h-1zM1212 195h1v1h-1zM1215 195h1v1h-1zM1218 195h1v1h-1zM1221 195h1v1h-1zM1224 195h1v1h-1zM1227 195h1v1h-1zM1230 195h1v1h-1zM1233 195h1v1h-1zM1236 195h1v1h-1zM1239 195h1v1h-1zM1242 195h1v1h-1zM1245 195h1v1h-1zM1248 195h1v1h-1zM1251 195h1v1h-1zM1254 195h1v1h-1zM1257 195h1v1h-1zM1260 195h1v1h-1zM1263 195h1v1h-1zM1266 195h1v1h-1zM1269 195h1v1h-1zM1272 195h1v1h-1zM1275 195h1v1h-1zM1278 195h1v1h-1zM1281 195h1v1h-1zM1284 195h1v1h-1zM1287 195h1v1h-1zM1290 195h1v1h-1zM1293 195h1v1h-1zM1296 195h1v1h-1zM1299 195h1v1h-1zM1302 195h1v1h-1zM1305 195h1v1h-1zM1308 195h1v1h-1zM1311 195h1v1h-1zM1314 195h1v1h-1zM1317 195h1v1h-1zM1320 195h1v1h-1zM1323 195h1v1h-1zM1326 195h1v1h-1zM1329 195h1v1h-1zM1332 195h1v1h-1zM1335 195h1v1h-1zM1338 195h1v1h-1z"/>
<rect x="0" y="0" width="1411" height="1" fill="#e0e3eb"/>
</svg>
<div id="pane">
<div class="pl" style="top:601.08px">2,334.0</div>
<div class="pl" style="top:534.97px">2,335.0</div>
<div class="pl" style="top:468.86px">2,336.0</div>
<div class="pl" style="top:402.75px">2,337.0</div>
<div class="pl" style="top:336.64px">2,338.0</div>
<div class="pl" style="top:270.53px">2,339.0</div>
<div class="pl" style="top:204.42px">2,340.0</div>
<div class="pl" style="top:138.31px">2,341.0</div>
<div class="pl" style="top:72.20px">2,342.0</div>
<div class="pl" style="top:5.29px">2,343.0</div>

<div class="pl" id="p2333" style="top:668.6px">2,333.0</div>
<div class="abs" id="lastp" style="left:1340px;top:185px;width:68px;height:21px;background:#f23645;border-radius:0 3px 3px 0;color:#fff;font-size:15.6px;line-height:20px;letter-spacing:-0.3px;"><span style="position:absolute;left:10.6px;top:0px;">2,340.3</span></div>
<div class="abs" id="volp" style="left:1340px;top:659px;width:33px;height:21px;background:#ef5350;border-radius:0 3px 3px 0;color:#fff;font-size:15px;line-height:21px;font-weight:bold;"><span style="position:absolute;left:11px;top:0;letter-spacing:-0.6px;">18</span></div>

</div>
<div id="taxis">
<div class="tl" style="left:-36.5px">26</div>
<div class="tl" style="left:131.5px">22:30</div>
<div class="tl" style="left:299.5px">23:00</div>
<div class="tl" style="left:467.5px">23:30</div>
<div class="tl b" style="left:624.5px">27</div>
<div class="tl" style="left:787.5px">00:30</div>
<div class="tl" style="left:955.5px">01:00</div>
<div class="tl" style="left:1123.5px">01:30</div>
<div class="tl" style="left:1291.5px">02:00</div>
</div>

<svg class="abs" style="left:0;top:0" width="6" height="6" viewBox="0 0 6 6"><path d="M0 0H4Q0.5 0.5 0 4z" fill="#dfe2eb"/></svg>
<!-- symbol icon -->
<svg class="abs" style="left:11px;top:10px" width="24" height="24" viewBox="0 0 24 24">
<circle cx="11.45" cy="10.85" r="11.3" fill="#d69a00"/>
<path fill="#fff" d="M9.5 6.1H13.7L16 9.65H7.2z M4.9 11H8.9L11.2 14.7H2.8z M14.3 11H18.3L20.2 14.7H12z"/>
</svg>
<div class="abs" id="title" style="left:0;top:10px;font-size:18.6px;line-height:24px;height:24px;width:270px;-webkit-text-stroke:0.4px;">
<span class="abs" style="left:38.4px;letter-spacing:0.05px;">Gold</span><span class="abs" style="left:85.3px;letter-spacing:0.62px;">Futures</span><span class="abs" style="left:156.8px;">·</span><span class="abs" style="left:167.4px;font-size:18.6px;">1</span><span class="abs" style="left:181.9px;">·</span><span class="abs" style="left:193.4px;transform:scaleX(0.885);transform-origin:0 0;">COMEX</span></div>
<!-- status pill -->
<div class="abs" style="left:273.5px;top:10px;width:25px;height:21.5px;background:#daf0ec;border-radius:11px 0 0 11px;"></div>
<div class="abs" style="left:298.5px;top:10px;width:25.5px;height:21.5px;background:#fdeeda;border-radius:0 11px 11px 0;"></div>
<div class="abs" style="left:281.8px;top:15.8px;width:10.1px;height:10.1px;border-radius:50%;background:#089981;"></div>
<div class="abs" id="dmark" style="left:304.8px;top:10.9px;font-size:15.2px;line-height:19px;font-weight:bold;color:#f57c00;-webkit-text-stroke:0;">D</div>
<!-- ohlc -->
<div class="abs ohlc" id="ohlc" style="left:343.7px;top:12.4px;font-size:15.2px;line-height:20px;letter-spacing:0.41px;">
<span class="k">O</span><span class="red">2,340.4</span><span class="k" style="margin-left:8.6px">H</span><span class="red">2,340.4</span><span class="k" style="margin-left:8.6px">L</span><span class="red">2,339.7</span><span class="k" style="margin-left:8.6px">C</span><span class="red">2,340.3</span><span class="red" style="margin-left:8.6px">0.0 (0.00%)</span></div>
<svg class="abs" style="left:728px;top:15px" width="28" height="12" viewBox="0 0 28 12">
<circle cx="4.5" cy="6" r="2.6" fill="#5d606b"/><circle cx="13.3" cy="6" r="2.6" fill="#8a8d97"/><circle cx="22" cy="6" r="2.6" fill="#c3c5cb"/>
</svg>
<!-- bid/ask -->
<div class="abs" style="left:10px;top:41px;width:66px;height:27.5px;border:1px solid #f23645;border-radius:5px;"></div>
<div class="abs" id="bid" style="left:19.7px;top:46.1px;font-size:15.3px;line-height:20px;color:#f23645;letter-spacing:0.3px;">2340.2</div>
<div class="abs" id="spread" style="left:87.9px;top:47.3px;font-size:12.8px;line-height:18px;letter-spacing:0.25px;color:#2f323d;">0.1</div>
<div class="abs" style="left:118px;top:41px;width:66px;height:27.5px;border:1px solid #2962ff;border-radius:5px;"></div>
<div class="abs" id="ask" style="left:127.6px;top:46.1px;font-size:15.3px;line-height:20px;color:#2962ff;letter-spacing:0.3px;">2340.3</div>
<!-- vol legend -->
<div class="abs" id="vol" style="left:10.9px;top:82.3px;font-size:15.6px;line-height:20px;letter-spacing:0.25px;">Vol</div>
<div class="abs" id="volv" style="left:43.4px;top:82.3px;font-size:15.6px;line-height:20px;color:#ef5350;letter-spacing:-0.5px;">18</div>
<!-- collapse -->
<div class="abs" style="left:11px;top:109px;width:34px;height:23px;border:1px solid #d1d4dc;border-radius:4px;background:#fff;"></div>
<svg class="abs" style="left:11px;top:109px" width="36" height="25" viewBox="0 0 36 25"><path d="M12.5 14.6L17.35 10.1L22.2 14.6" fill="none" stroke="#131722" stroke-width="1.6"/></svg>
<!-- logo -->
<svg class="abs" style="left:10px;top:638px" width="210" height="34" viewBox="0 0 210 34">
<g fill="#131722" stroke="#fff" stroke-width="6.2" stroke-linejoin="round" style="paint-order:stroke fill">
<path d="M19.4 24h-7.2V13.2H5V6h14.4z"/><circle cx="25.6" cy="10.1" r="4.1"/><path d="M33.8 24h-8.2L33.3 6h8.2z"/>
<text x="49.8" y="24" font-family="Liberation Sans, sans-serif" font-weight="bold" font-size="24.4" letter-spacing="0.9">TradingView</text>
</g>
</svg>
<!-- scroll button -->
<div class="abs" style="left:1285px;top:610px;width:30px;height:30px;border-radius:6px;background:#fff;box-shadow:0 2px 4px rgba(0,0,0,0.18);"></div>
<svg class="abs" style="left:1285px;top:610px" width="30" height="30" viewBox="0 0 30 30"><path d="M9.7 11.1L13.8 15.2L9.7 19.3 M14.1 7.7L21.6 15.2L14.1 22.7" fill="none" stroke="#131722" stroke-width="1.9"/></svg>
<!-- flash icon -->
<svg class="abs" style="left:1267px;top:649px" width="30" height="30" viewBox="0 0 30 30">
<circle cx="14.55" cy="14.3" r="14.1" fill="#fff"/>
<circle cx="14.55" cy="14.3" r="12.5" fill="#fff" stroke="#9c27b0" stroke-width="1.6"/>
<path d="M18.3 7.6L8.2 15.5L13.6 15.2L10.6 21.2L21 13.35L15.5 13.35z" fill="#9c27b0"/>
</svg>
<!-- settings -->
<svg class="abs" style="left:1366px;top:688px" width="24" height="22" viewBox="0 0 24 22">
<path d="M7 2.6H16L20.2 10L16 17.4H7L2.9 10z" fill="none" stroke="#131722" stroke-width="1.5" stroke-linejoin="round"/>
<circle cx="11.45" cy="10" r="2.4" fill="none" stroke="#131722" stroke-width="1.5"/>
</svg>

</div>
</body></html>
